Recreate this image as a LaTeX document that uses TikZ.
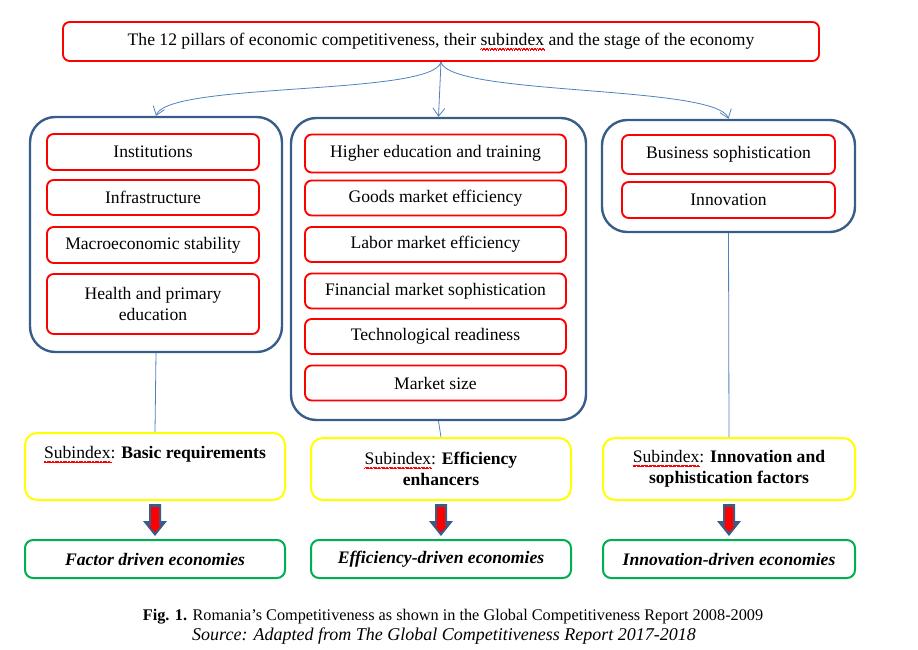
\documentclass[tikz,border=0pt]{standalone}
\usepackage{fontspec}
\setmainfont{Liberation Serif}
\usepackage{tikz}
\usetikzlibrary{arrows.meta}

\definecolor{pillarred}{HTML}{FF0000}
\definecolor{groupblue}{HTML}{385D8A}
\definecolor{linkblue}{HTML}{4F81BD}
\definecolor{subyellow}{HTML}{FFFF00}
\definecolor{stagegreen}{HTML}{00B050}

% red wavy spell-check underline
\newcommand\spellwave[1]{\setbox0\hbox{#1}%
  \rlap{\color{red}\linethickness{0.4pt}\setlength\unitlength{1pt}%
    \begin{picture}(0,0)(0,2.5)\multiput(0,0)(2,0){\numexpr\wd0/131072\relax}{\qbezier(0,0)(0.5,1)(1,0)\qbezier(1,0)(1.5,-1)(2,0)}\end{picture}}%
  \box0\relax}

\tikzset{
  every node/.style={font=\fontsize{13.2}{16}\selectfont, inner sep=2pt},
  pillar/.style={draw=pillarred, line width=1.4pt, rounded corners=5pt, align=center},
  group/.style={draw=groupblue, line width=1.8pt, rounded corners=19pt},
  subidx/.style={draw=subyellow, line width=1.5pt, rounded corners=9pt, align=center},
  stage/.style={draw=stagegreen, line width=1.5pt, rounded corners=6pt, align=center,
    font=\fontsize{13.2}{16}\selectfont\bfseries\itshape},
  link/.style={draw=linkblue, line width=0.6pt},
}

\begin{document}
\begin{tikzpicture}[x=0.75pt,y=0.75pt,yscale=-1,xscale=1]
\path[use as bounding box] (0,0) rectangle (918,650);

% Title box
\node (title) at (441,41.5) [pillar, minimum width=567pt, minimum height=29.25pt]
  {The 12 pillars of economic competitiveness, their \spellwave{subindex} and the stage of the economy};

%Rounded Rect: basic requirements
\node (grpA) at (156,234.5) [group, minimum width=189pt, minimum height=176.25pt] {};
\node (pilA1) at (153,152) [pillar, minimum width=159pt, minimum height=27pt] {Institutions};
\node (pilA2) at (153,197.5) [pillar, minimum width=159pt, minimum height=26.25pt] {Infrastructure};
\node (pilA3) at (153,245) [pillar, minimum width=159pt, minimum height=27pt] {Macroeconomic stability};
\node (pilA4) at (153,304) [pillar, minimum width=159pt, minimum height=45pt] {Health and primary\\education};

%Rounded Rect: efficiency enhancers
\node (grpB) at (438.5,269) [group, minimum width=221.25pt, minimum height=226.5pt] {};
\node (pilB1) at (435.5,153.5) [pillar, minimum width=195.75pt, minimum height=28.5pt] {Higher education and training};
\node (pilB2) at (435.5,198) [pillar, minimum width=195.75pt, minimum height=26.25pt] {Goods market efficiency};
\node (pilB3) at (435.5,244.5) [pillar, minimum width=195.75pt, minimum height=26.25pt] {Labor market efficiency};
\node (pilB4) at (435.5,291) [pillar, minimum width=195.75pt, minimum height=26.25pt] {Financial market sophistication};
\node (pilB5) at (435.5,336.5) [pillar, minimum width=195.75pt, minimum height=26.25pt] {Technological readiness};
\node (pilB6) at (435.5,383) [pillar, minimum width=195.75pt, minimum height=26.25pt] {Market size};

%Rounded Rect: innovation factors
\node (grpC) at (728.5,176) [group, minimum width=189.75pt, minimum height=84pt] {};
\node (pilC1) at (728.5,154.5) [pillar, minimum width=159.75pt, minimum height=29.25pt] {Business sophistication};
\node (pilC2) at (728.5,200) [pillar, minimum width=159.75pt, minimum height=27pt] {Innovation};

% Subindex boxes
\node (subA) at (155,466.5) [subidx, minimum width=195pt, minimum height=50.25pt]
  {\spellwave{Subindex}: \textbf{Basic requirements}\\ \strut};
\node (subB) at (441,469) [subidx, minimum width=195pt, minimum height=46.5pt]
  {\spellwave{Subindex}: \textbf{Efficiency}\\\textbf{enhancers}};
\node (subC) at (729,469) [subidx, minimum width=189pt, minimum height=46.5pt]
  {\spellwave{Subindex}: \textbf{Innovation and}\\\textbf{sophistication factors}};

% Stage boxes
\node (stgA) at (155,559) [stage, minimum width=195pt, minimum height=28.5pt] {Factor driven economies};
\node (stgB) at (441,559) [stage, minimum width=195pt, minimum height=28.5pt] {Efficiency-driven economies};
\node (stgC) at (729,559) [stage, minimum width=189pt, minimum height=28.5pt] {Innovation-driven economies};

%Curve Lines
\draw[link, -{Straight Barb[length=6pt,width=9pt]}] (title.south) .. controls +(-8,34) and +(12,-34) .. (grpA.north);
\draw[link, -{Straight Barb[length=6pt,width=9pt]}] (title.south) -- (grpB.north);
\draw[link, -{Straight Barb[length=6pt,width=9pt]}] (title.south) .. controls +(8,34) and +(-12,-34) .. (grpC.north);

%Straight Lines
\draw[link] (grpA.south) -- (subA.north);
\draw[link] (grpB.south) -- (subB.north);
\draw[link] (grpC.south) -- (subC.north);

% Block arrows
\foreach \s in {subA,subB,subC}{
  \begin{scope}[shift={(\s.south)}]
    \fill[groupblue] (-6,3) -- (6,3) -- (6,20) -- (12,20) -- (0,35) -- (-12,20) -- (-6,20) -- cycle;
    \fill[pillarred] (-4,6) -- (4,6) -- (4,25) -- (6,25) -- (0,31) -- (-6,25) -- (-4,25) -- cycle;
  \end{scope}
}

% Text Node
\node (caption) at (453,617) [font=\fontsize{12.2}{14}\selectfont] {\textbf{Fig. 1.} Romania’s Competitiveness as shown in the Global Competitiveness Report 2008-2009};
% Text Node
\node (source) at (444,636) [font=\fontsize{13.5}{15}\selectfont\itshape] {Source: Adapted from The Global Competitiveness Report 2017-2018};

\end{tikzpicture}
\end{document}
